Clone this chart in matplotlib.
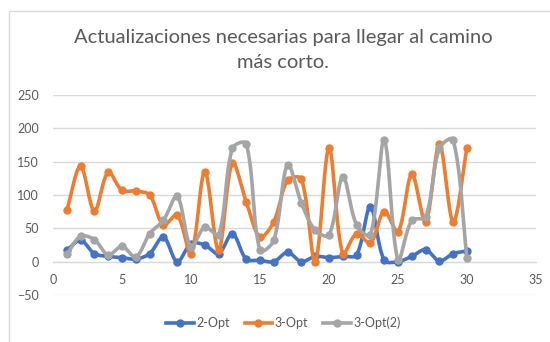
import numpy as np
import matplotlib.pyplot as plt
from matplotlib.patches import Rectangle

x = list(range(1, 31))
opt2 = [17, 32, 12, 8, 6, 4, 12, 37, 0, 27, 25, 12, 42, 4, 2, 0, 14, 0, 8, 6,
        8, 10, 82, 2, 0, 8, 18, 1, 12, 16]
opt3 = [77, 143, 76, 134, 107, 106, 100, 55, 70, 12, 135, 17, 148, 90, 37, 60, 122, 124, 0, 170,
        12, 42, 28, 75, 45, 131, 60, 176, 60, 171]
opt3b = [11, 38, 33, 10, 23, 7, 42, 62, 98, 22, 52, 40, 170, 177, 17, 32, 145, 88, 47, 40,
         127, 55, 40, 182, 3, 62, 67, 170, 183, 5]

series = [('2-Opt', opt2, '#4472C4'),
          ('3-Opt', opt3, '#ED7D31'),
          ('3-Opt(2)', opt3b, '#A5A5A5')]

# screen units per data unit, used to weight the curve tangents
XS, YS = 483 / 35, 200 / 300


def smooth(xs, ys, n=24):
    # bezier segments, tangents weighted by neighbouring segment lengths
    p = np.column_stack([np.asarray(xs) * XS, np.asarray(ys) * YS]).astype(float)
    out = []
    for i in range(len(p) - 1):
        p0 = p[max(i - 1, 0)]
        p1, p2 = p[i], p[i + 1]
        p3 = p[min(i + 2, len(p) - 1)]
        d01 = np.hypot(*(p1 - p0))
        d12 = np.hypot(*(p2 - p1))
        d23 = np.hypot(*(p3 - p2))
        c1 = p1 + (p2 - p0) * d12 / max(d01 + d12, 1e-9) / 3
        c2 = p2 - (p3 - p1) * d12 / max(d12 + d23, 1e-9) / 3
        t = np.linspace(0, 1, n)[:, None]
        seg = ((1 - t) ** 3 * p1 + 3 * (1 - t) ** 2 * t * c1
               + 3 * (1 - t) * t ** 2 * c2 + t ** 3 * p2)
        out.append(seg if i == 0 else seg[1:])
    s = np.vstack(out)
    return s[:, 0] / XS, s[:, 1] / YS


plt.rcParams['font.family'] = ['Lato', 'DejaVu Sans']
fig = plt.figure(figsize=(5.5, 3.42), dpi=100)
fig.patches.append(Rectangle((9 / 550, -0.1), 1.2, 1 - 11 / 342 + 0.1, transform=fig.transFigure,
                             fill=False, edgecolor='#d9d9d9', linewidth=1))
ax = fig.add_axes([53 / 550, 1 - 295 / 342, 483 / 550, 200 / 342])

for name, ys, col in series:
    sx, sy = smooth(x, ys)
    ax.plot(sx, sy, color=col, linewidth=2.6, solid_capstyle='round', zorder=3)
    ax.plot(x, ys, 'o', color=col, markersize=5, zorder=3)
    ax.plot([], [], color=col, linewidth=2.6, marker='o', markersize=5, label=name)

ax.set_xlim(0, 35)
ax.set_ylim(-50, 250)
ax.set_xticks(range(0, 36, 5))
ax.set_yticks(range(-50, 251, 50))
ax.yaxis.grid(True, color='#d9d9d9', linewidth=1)
ax.set_axisbelow(True)
for s in ['top', 'right', 'left']:
    ax.spines[s].set_visible(False)
ax.spines['bottom'].set_position(('data', 0))
ax.spines['bottom'].set_color('#d9d9d9')
ax.tick_params(length=0, colors='#595959', labelsize=9)
ax.tick_params(axis='y', pad=10)
ax.tick_params(axis='x', pad=9)

fig.text(0.515, 1 - 37 / 342, 'Actualizaciones necesarias para llegar al camino',
         ha='center', va='center', fontsize=14.5, color='#595959')
fig.text(0.515, 1 - 62 / 342, 'más corto.',
         ha='center', va='center', fontsize=14.5, color='#595959')

fig.legend(loc='center', bbox_to_anchor=(0.515, 1 - 323 / 342), ncol=3, frameon=False,
           fontsize=9, labelcolor='#595959', handlelength=2.2, handletextpad=0.2,
           columnspacing=1.2)

fig.savefig('out.png', dpi=100)
